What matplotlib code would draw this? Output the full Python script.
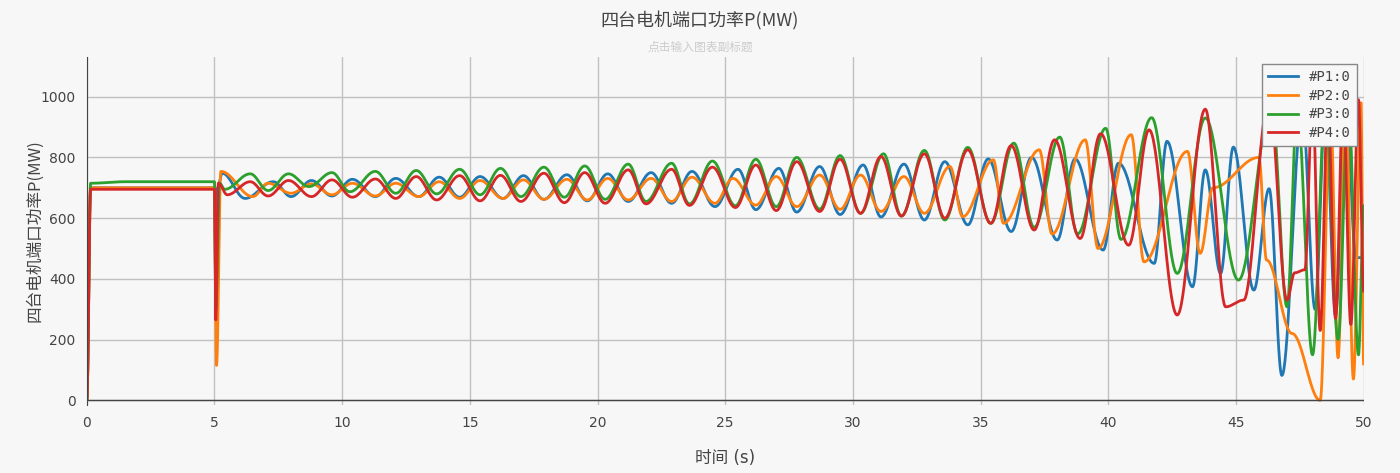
import numpy as np
import matplotlib
matplotlib.use("Agg")
import matplotlib.pyplot as plt

plt.rcParams['font.family'] = ['DejaVu Sans', 'Noto Sans CJK SC']

# extrema (time s, value MW) for each series
p1_t = [0, 0.15, 5.0, 5.05, 5.12, 5.3, 6.2, 7.3, 8.0, 8.8, 9.6, 10.4, 11.3, 12.1, 13.0, 13.8, 14.6, 15.4, 16.3, 17.1, 17.9, 18.8,
        19.6, 20.4, 21.2, 22.1, 22.9, 23.7, 24.6, 25.5, 26.2, 27.1, 27.8, 28.7, 29.5, 30.4, 31.1, 32.0, 32.8, 33.6, 34.5, 35.3,
        36.2, 37.0, 38.0, 38.7, 39.8, 40.4, 41.8, 42.3, 43.3, 43.8, 44.4, 44.9, 45.7, 46.3, 46.8, 47.6, 48.1, 48.5, 48.9, 49.3, 49.7, 50.0]
p1_v = [0, 700, 700, 270, 700, 748, 665, 720, 671, 724, 673, 728, 671, 731, 671, 735, 669, 737, 665, 740, 662, 743,
        657, 746, 655, 750, 649, 754, 638, 761, 628, 764, 620, 770, 612, 775, 604, 778, 594, 786, 578, 795,
        556, 800, 528, 795, 495, 781, 451, 853, 374, 759, 418, 834, 363, 697, 82, 950, 300, 960, 280, 990, 470, 470]

p2_t = [0, 0.15, 5.0, 5.08, 5.25, 6.5, 7.1, 8.0, 8.8, 9.6, 10.4, 11.3, 12.1, 13.0, 13.8, 14.6, 15.4, 16.3, 17.1, 17.9, 18.8,
        19.6, 20.4, 21.2, 22.1, 22.9, 23.7, 24.6, 25.3, 26.2, 27.0, 27.8, 28.7, 29.5, 30.3, 31.1, 32.0, 32.8, 33.8, 34.3,
        35.5, 35.9, 37.3, 37.8, 39.1, 39.6, 40.9, 41.4, 43.1, 43.6, 44.1, 45.9, 46.2, 47.2, 48.3, 48.7, 49.0, 49.3, 49.6, 49.9, 50.0]
p2_v = [0, 700, 700, 115, 754, 671, 715, 682, 713, 677, 715, 673, 715, 671, 720, 665, 724, 665, 726, 662, 728,
        660, 731, 660, 731, 655, 735, 649, 731, 643, 737, 638, 742, 629, 742, 622, 737, 616, 770, 605,
        792, 583, 825, 548, 858, 500, 875, 456, 820, 484, 700, 800, 462, 220, 0, 960, 140, 990, 70, 980, 120]

p3_t = [0, 0.15, 1.5, 5.0, 5.05, 5.2, 5.4, 6.4, 7.1, 7.9, 8.7, 9.6, 10.3, 11.3, 12.1, 12.9, 13.7, 14.6, 15.4, 16.2, 17.0, 17.9,
        18.7, 19.5, 20.3, 21.2, 21.9, 22.9, 23.6, 24.5, 25.4, 26.2, 27.0, 27.8, 28.7, 29.5, 30.3, 31.2, 31.9, 32.8, 33.6,
        34.5, 35.4, 36.3, 37.1, 38.1, 38.8, 39.9, 40.5, 41.7, 42.7, 43.8, 45.1, 46.4, 47.0, 47.4, 48.0, 48.5, 49.0, 49.4, 49.8, 50.0]
p3_v = [0, 715, 720, 720, 300, 715, 695, 746, 691, 746, 704, 750, 687, 754, 682, 757, 680, 761, 677, 764, 671, 768,
        669, 772, 662, 778, 655, 781, 647, 788, 641, 794, 638, 800, 630, 806, 616, 812, 607, 823, 594,
        833, 583, 847, 570, 867, 548, 896, 530, 931, 418, 930, 396, 963, 308, 960, 150, 960, 200, 990, 150, 640]

p4_t = [0, 0.15, 5.0, 5.05, 5.15, 5.5, 6.4, 7.1, 7.9, 8.8, 9.6, 10.4, 11.3, 12.1, 12.9, 13.7, 14.6, 15.4, 16.2, 17.0, 17.9,
        18.7, 19.5, 20.3, 21.2, 21.9, 22.9, 23.6, 24.5, 25.4, 26.2, 27.0, 27.8, 28.7, 29.5, 30.3, 31.1, 31.9, 32.8, 33.6,
        34.5, 35.4, 36.2, 37.1, 37.9, 38.9, 39.7, 40.8, 41.6, 42.7, 43.8, 44.6, 45.3, 46.3, 47.0, 47.3, 47.7, 48.0, 48.3,
        48.6, 48.9, 49.2, 49.5, 49.8, 50.0]
p4_v = [0, 695, 695, 265, 715, 677, 720, 673, 724, 671, 726, 669, 729, 665, 737, 660, 740, 657, 741, 655, 748,
        651, 750, 649, 759, 647, 761, 642, 768, 635, 775, 625, 786, 622, 794, 616, 803, 607, 812, 600,
        825, 583, 839, 561, 858, 533, 878, 511, 891, 281, 959, 308, 330, 990, 330, 420, 430, 990, 230,
        980, 270, 990, 250, 990, 360]

series = [("#P1:0", p1_t, p1_v, "#1f77b4"), ("#P2:0", p2_t, p2_v, "#ff7f0e"),
          ("#P3:0", p3_t, p3_v, "#2ca02c"), ("#P4:0", p4_t, p4_v, "#d62728")]


def cos_interp(tk, vk, n=40):
    xs, ys = [], []
    for i in range(len(tk) - 1):
        s = np.linspace(0, 1, n, endpoint=False)
        w = (1 - np.cos(np.pi * s)) / 2
        xs.append(tk[i] + (tk[i + 1] - tk[i]) * s)
        ys.append(vk[i] + (vk[i + 1] - vk[i]) * w)
    xs.append([tk[-1]]); ys.append([vk[-1]])
    return np.concatenate(xs), np.concatenate(ys)


bg = "#f7f7f7"
fig = plt.figure(figsize=(14, 4.73), dpi=100, facecolor=bg)
ax = fig.add_axes([0.062, 0.144, 0.912, 0.735], facecolor=bg)
for name, tk, vk, c in series:
    x, y = cos_interp(tk, vk)
    ax.plot(x, y, color=c, lw=2, label=name)

ax.set_xlim(0, 50)
ax.set_ylim(-15, 1130)
ax.set_xticks(range(0, 51, 5))
ax.set_yticks(range(0, 1001, 200))
ax.grid(True, color="#c0c0c0", lw=1)
ax.axhline(0, color="#444", lw=1)
for s in ["top", "right", "bottom"]:
    ax.spines[s].set_visible(False)
ax.spines["left"].set_color("#444")
ax.tick_params(length=0, labelsize=10, colors="#444", pad=8)
ax.set_xlabel("时间 (s)", fontsize=12, color="#444", labelpad=14)
ax.set_ylabel("四台电机端口功率P(MW)", fontsize=12, color="#444", labelpad=-2,
              family=['Noto Sans CJK SC', 'DejaVu Sans'])
fig.text(0.5, 0.945, "四台电机端口功率P(MW)", ha="center", fontsize=13, color="#444",
         family=['Noto Sans CJK SC', 'DejaVu Sans'])
fig.text(0.5, 0.893, "点击输入图表副标题", ha="center", fontsize=8.5, color="#ccc",
         family=['Noto Sans CJK SC', 'DejaVu Sans'])
leg = ax.legend(loc="upper right", bbox_to_anchor=(1.0, 1.0), frameon=True,
                prop={'family': 'DejaVu Sans Mono', 'size': 10},
                fancybox=False, framealpha=1, edgecolor="#888", handlelength=2.2, borderpad=0.4,
                labelspacing=0.35)
leg.get_frame().set_facecolor(bg)
for t in leg.get_texts():
    t.set_color("#444")
fig.savefig("out.png", dpi=100, facecolor=bg)
